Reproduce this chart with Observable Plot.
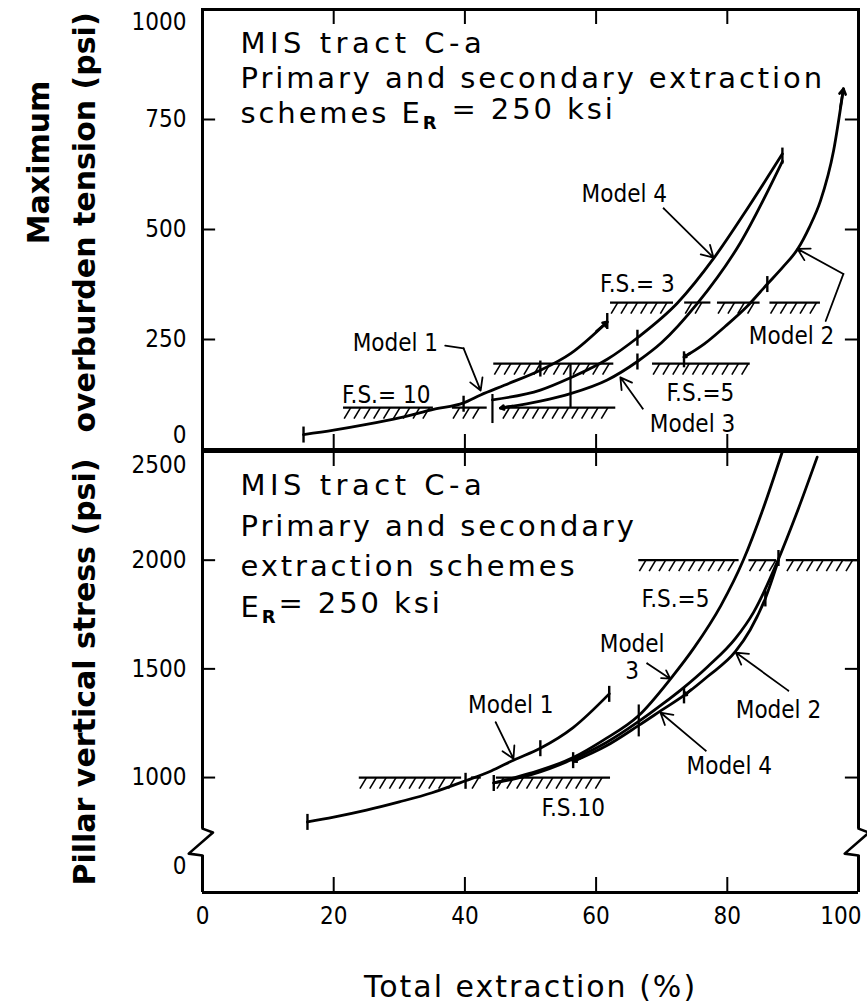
<!DOCTYPE html>
<html>
<head>
<meta charset="utf-8">
<script src="https://cdn.jsdelivr.net/npm/d3@7"></script>
<script src="https://cdn.jsdelivr.net/npm/@observablehq/plot@0.6"></script>
<style>
  body { margin: 0; background: #fff; }
  #fig { position: relative; width: 867px; height: 1005px; font-family: "DejaVu Sans", sans-serif; color: #000; }
  #fig svg { position: absolute; left: 0; overflow: visible; background: none; }
  text[aria-label="note-head"] { letter-spacing: 4.5px; }
  text[aria-label="note"] { letter-spacing: 2.9px; }
  text[aria-label="x-title"] { letter-spacing: 2px; }
</style>
</head>
<body>
<div id="fig"></div>
<script>
// ---------- shared x axis: total extraction (%) ----------
const xTicks = [0, 20, 40, 60, 80, 100];

// ---------- upper panel: maximum overburden tension (psi) ----------
const tensionTicks = [0, 250, 500, 750, 1000];
// [total extraction %, tension psi]
const tensionModel1 = [[15.4, 34], [20, 44], [25, 57], [30, 72], [35.2, 91], [39.8, 106], [42.4, 124], [46, 146], [51.5, 180], [56.1, 218], [61.7, 290]];
const tensionModel4 = [[44.2, 113], [51.5, 135], [56.1, 163], [61.7, 205], [66.3, 254], [72.4, 333], [78, 436], [83, 546], [88.4, 672]];
const tensionModel3 = [[45.4, 94], [51.5, 110], [56.1, 127], [61.7, 158], [66.3, 200], [70, 243], [75.5, 333], [82, 470], [88.4, 655]];
const tensionModel2 = [[73.4, 210], [76.5, 240], [79.7, 280], [83, 325], [86.1, 376], [88.5, 415], [90.7, 455], [92.5, 505], [94.2, 565], [96.2, 679], [97.7, 820]];
// factor-of-safety limits: level (psi) and extent (%)
const tensionFS = [
  {psi: 95, from: 21.5, to: 35.2}, {psi: 95, from: 38.1, to: 43.4}, {psi: 95, from: 45.7, to: 63.0},
  {psi: 195, from: 44.4, to: 62.7}, {psi: 195, from: 68.6, to: 83.5},
  {psi: 334, from: 62.2, to: 71.8}, {psi: 334, from: 73.5, to: 77.5}, {psi: 334, from: 78.5, to: 85}, {psi: 334, from: 86.5, to: 94.2}
];
// stage marks on the curves
const tensionMarks = [[15.4, 34], [39.8, 104], [51.5, 184], [61.7, 292], [66.3, 254], [66.3, 200], [73.4, 205], [86.1, 376], [88.4, 668]];
const tensionSteps = [{x: 44.2, y1: 59, y2: 125, dash: null}, {x: 56.1, y1: 95, y2: 195, dash: "3,3"}];
const tensionLabels = [
  {text: "Model 4", x: 64.3, y: 582}, {text: "Model 1", x: 29.4, y: 245},
  {text: "Model 3", x: 74.7, y: 61}, {text: "Model 2", x: 89.8, y: 259},
  {text: "F.S.= 10", x: 28.0, y: 125}, {text: "F.S.= 3", x: 66.3, y: 377}, {text: "F.S.=5", x: 75.9, y: 130}
];
const tensionPointers = [
  [[70.3, 548], [77.9, 436]],
  [[37.0, 236], [39.8, 230], [42.4, 134]],
  [[67.1, 93], [63.7, 164]],
  [[95.0, 292], [97.7, 399], [90.7, 456]]
];
const tensionNote = ["MIS tract C-a", "Primary and secondary extraction", "schemes E_R = 250 ksi"];

// ---------- lower panel: pillar vertical stress (psi) ----------
const stressTicks = [0, 1000, 1500, 2000, 2500];
const stressModel1 = [[16.0, 796], [20, 818], [25, 850], [30, 888], [35, 930], [40.1, 985], [44, 1030], [47.4, 1080], [51.5, 1135], [56.5, 1230], [62.0, 1385]];
const stressModel3 = [[44.4, 975], [50, 1020], [56.5, 1092], [61, 1170], [66.5, 1285], [71.5, 1460], [75, 1600], [79, 1790], [82.5, 2004], [85.5, 2240], [88.4, 2500]];
const stressModel4 = [[44.4, 975], [50, 1012], [56.5, 1085], [61.5, 1160], [66.5, 1258], [70, 1335], [73.4, 1415], [77, 1510], [81.25, 1640], [84, 1760], [87.8, 2005], [90.5, 2210], [93.7, 2474]];
const stressModel2 = [[56.5, 1074], [61.5, 1145], [66.5, 1240], [70, 1310], [73.4, 1378], [77, 1465], [81.25, 1580], [83.5, 1680], [85.8, 1824], [87.8, 2000]];
const stressFS = [
  {psi: 1000, from: 23.9, to: 39.5}, {psi: 1000, from: 41, to: 42.5}, {psi: 1000, from: 44.8, to: 62.2},
  {psi: 2000, from: 66.5, to: 81.8}, {psi: 2000, from: 83.3, to: 87.5}, {psi: 2000, from: 89, to: 100}
];
const stressMarks = [[16.0, 796], [40.1, 985], [51.5, 1135], [62.0, 1385], [44.4, 975], [56.5, 1080], [73.4, 1378], [85.8, 1824], [87.8, 2010]];
const stressSteps = [{x: 66.5, y1: 1187, y2: 1334, dash: null}];
const stressLabels = [
  {text: "Model 1", x: 47.0, y: 1336}, {text: "Model\n3", x: 65.5, y: 1556},
  {text: "Model 2", x: 87.8, y: 1313}, {text: "Model 4", x: 80.3, y: 1055},
  {text: "F.S.10", x: 56.5, y: 862}, {text: "F.S.=5", x: 72.1, y: 1824}
];
const stressPointers = [
  [[44.7, 1254], [47.4, 1087]],
  [[67.8, 1525], [71.3, 1455]],
  [[89.3, 1400], [81.3, 1575]],
  [[76.7, 1124], [69.8, 1299]]
];
const stressNote = ["MIS tract C-a", "Primary and secondary", "extraction schemes", "E_R= 250 ksi"];
// broken stress axis: below this level the scale is compressed
const breakAt = 600, breakSqueeze = 0.2147;
// zigzag of the axis break: levels (psi) and side offsets (%)
const breakLevels = [765, 747, 650, 641];
const breakOffsets = [0, 1.6, -2.1, 0];

// ---------- drawing helpers ----------
const vbar = {draw(ctx, size) { const r = Math.sqrt(size / Math.PI); ctx.moveTo(0, -r); ctx.lineTo(0, r); }};
const slash = {draw(ctx, size) { const r = Math.sqrt(size / Math.PI); ctx.moveTo(0, 0); ctx.lineTo(-0.6 * r, r); }};

function hatchMarks(segments) {
  const out = [];
  for (const s of segments) for (let x = s.from + 1.1; x <= s.to; x += 1.5) out.push({x, y: s.psi});
  return out;
}
// arrowhead on a curve: tip at point i, pointing away from point j
function head(series, i, j) {
  const [b, a] = [series[i], series[j]];
  return {x1: b[0] + 0.3 * (a[0] - b[0]), y1: b[1] + 0.3 * (a[1] - b[1]), x2: b[0], y2: b[1]};
}
function pointerMarks(pointers) {
  const lines = pointers.flatMap((p, i) => p.slice(0, -1).map(([x, y]) => ({i, x, y})));
  const arrows = pointers.map(p => {
    const [a, b] = p.slice(-2);
    return {x1: a[0], y1: a[1], x2: b[0], y2: b[1]};
  });
  return [
    Plot.line(lines, {x: "x", y: "y", z: "i", stroke: "black", strokeWidth: 1.8}),
    Plot.arrow(arrows, {x1: "x1", y1: "y1", x2: "x2", y2: "y2", stroke: "black", strokeWidth: 1.8, headLength: 11})
  ];
}
function curve(series) {
  return Plot.line(series, {x: d => d[0], y: d => d[1], curve: "monotone-x", stroke: "black", strokeWidth: 2.8});
}
function fsMarks(segments) {
  return [
    Plot.ruleY(segments, {y: "psi", x1: "from", x2: "to", stroke: "black", strokeWidth: 2.2}),
    Plot.dot(hatchMarks(segments), {x: "x", y: "y", symbol: slash, r: 11, fill: "none", stroke: "black", strokeWidth: 1.6})
  ];
}
function noteMarks(lines, spacing) {
  return lines.map((line, i) => Plot.text([line], {text: d => d, frameAnchor: "top-left", dx: 38, dy: 23 + i * spacing, lineAnchor: "top",
    fontFamily: "'DejaVu Sans', sans-serif", fontSize: 29, fill: "black", ariaLabel: () => (i ? "note" : "note-head")}));
}
const labelStyle = {fontFamily: "'DejaVu Sans Condensed', 'DejaVu Sans', sans-serif", fontSize: 24, fill: "black", lineHeight: 1.15};
const tickStyle = {fontFamily: "'DejaVu Sans Condensed', 'DejaVu Sans', sans-serif", fontSize: 24, fill: "black"};
const titleStyle = {fontFamily: "'DejaVu Sans', sans-serif", fontSize: 30, fontWeight: "bold", fill: "black", rotate: -90,
  frameAnchor: "left", textAnchor: "middle", lineAnchor: "middle"};

const W = 867, M = {left: 202, right: 9};

// ---------- upper panel ----------
const tensionPlot = Plot.plot({
  width: W, height: 470,
  marginLeft: M.left, marginRight: M.right, marginTop: 9, marginBottom: 21,
  x: {domain: [0, 100], axis: null},
  y: {domain: [0, 1000], axis: null},
  style: {background: "none", overflow: "visible"},
  marks: [
    Plot.frame({stroke: "black", strokeWidth: 3}),
    Plot.ruleY(tensionTicks.slice(1, -1), {y: d => d, x1: 0, x2: 2, stroke: "black", strokeWidth: 2}),
    Plot.ruleY(tensionTicks.slice(1, -1), {y: d => d, x1: 98, x2: 100, stroke: "black", strokeWidth: 2}),
    Plot.ruleX(xTicks.slice(1, -1), {x: d => d, insetTop: 425, stroke: "black", strokeWidth: 2}),
    Plot.ruleX(xTicks.slice(1, -1), {x: d => d, insetBottom: 425, stroke: "black", strokeWidth: 2}),
    ...fsMarks(tensionFS),
    curve(tensionModel1), curve(tensionModel4), curve(tensionModel3), curve(tensionModel2),
    Plot.ruleX(tensionSteps, {x: "x", y1: "y1", y2: "y2", stroke: "black", strokeWidth: 2.2, strokeDasharray: d => d.dash}),
    Plot.dot(tensionMarks, {x: d => d[0], y: d => d[1], symbol: vbar, r: 8, fill: "none", stroke: "black", strokeWidth: 2.4}),
    Plot.arrow([
      head(tensionModel1, tensionModel1.length - 1, tensionModel1.length - 2),
      head(tensionModel3, 0, 1),
      head(tensionModel2, 0, 1),
      head(tensionModel2, tensionModel2.length - 1, tensionModel2.length - 2)
    ], {x1: "x1", y1: "y1", x2: "x2", y2: "y2", stroke: "black", strokeWidth: 2.6, headLength: 12}),
    ...pointerMarks(tensionPointers),
    Plot.text(tensionLabels, {x: "x", y: "y", text: "text", ...labelStyle}),
    ...noteMarks(tensionNote, 35),
    Plot.text(tensionTicks.slice(1, -1), {y: d => d, text: d => String(d), frameAnchor: "left", dx: -16, textAnchor: "end", ...tickStyle}),
    Plot.text(tensionTicks.slice(-1), {y: d => d, text: d => String(d), frameAnchor: "left", dx: -16, dy: 13, textAnchor: "end", ...tickStyle}),
    Plot.text(tensionTicks.slice(0, 1), {y: d => d, text: d => String(d), frameAnchor: "left", dx: -16, dy: -14, textAnchor: "end", ...tickStyle}),
    Plot.text(["Maximum"], {text: d => d, dx: -163, dy: -67, ...titleStyle}),
    Plot.text(["overburden tension (psi)"], {text: d => d, dx: -117, dy: -7, ...titleStyle})
  ]
});

// ---------- lower panel ----------
const stressPlot = Plot.plot({
  width: W, height: 565,
  marginLeft: M.left, marginRight: M.right, marginTop: 11, marginBottom: 113,
  x: {domain: [0, 100], axis: null},
  y: {transform: v => v >= breakAt ? v : breakAt - (breakAt - v) * breakSqueeze, range: [452, 11], axis: null},
  style: {background: "none", overflow: "visible"},
  marks: [
    // frame with broken vertical sides
    Plot.ruleY([0, 2500], {y: d => d, x1: 0, x2: 100, stroke: "black", strokeWidth: 3}),
    Plot.ruleX([0, 100], {x: d => d, y1: 0, y2: breakLevels[3], stroke: "black", strokeWidth: 3}),
    Plot.ruleX([0, 100], {x: d => d, y1: breakLevels[0], y2: 2500, stroke: "black", strokeWidth: 3}),
    Plot.line([0, 100].flatMap(side => breakLevels.map((y, i) => ({side, x: side + breakOffsets[i], y}))),
      {x: "x", y: "y", z: "side", stroke: "black", strokeWidth: 2.6}),
    Plot.ruleY(stressTicks.slice(1, -1), {y: d => d, x1: 0, x2: 2, stroke: "black", strokeWidth: 2}),
    Plot.ruleY(stressTicks.slice(1, -1), {y: d => d, x1: 98, x2: 100, stroke: "black", strokeWidth: 2}),
    Plot.ruleX(xTicks.slice(1, -1), {x: d => d, insetTop: 426, stroke: "black", strokeWidth: 2}),
    Plot.ruleX(xTicks.slice(1, -1), {x: d => d, insetBottom: 426, stroke: "black", strokeWidth: 2}),
    ...fsMarks(stressFS),
    curve(stressModel1), curve(stressModel3), curve(stressModel4), curve(stressModel2),
    Plot.ruleX(stressSteps, {x: "x", y1: "y1", y2: "y2", stroke: "black", strokeWidth: 2.2}),
    Plot.dot(stressMarks, {x: d => d[0], y: d => d[1], symbol: vbar, r: 8, fill: "none", stroke: "black", strokeWidth: 2.4}),
    Plot.arrow([head(stressModel2, 0, 1), head(stressModel2, 4, 5)],
      {x1: "x1", y1: "y1", x2: "x2", y2: "y2", stroke: "black", strokeWidth: 2.6, headLength: 12}),
    ...pointerMarks(stressPointers),
    Plot.text(stressLabels, {x: "x", y: "y", text: "text", ...labelStyle}),
    ...noteMarks(stressNote, 40.7),
    Plot.text(stressTicks.slice(1, -1), {y: d => d, text: d => String(d), frameAnchor: "left", dx: -16, textAnchor: "end", ...tickStyle}),
    Plot.text(stressTicks.slice(-1), {y: d => d, text: d => String(d), frameAnchor: "left", dx: -16, dy: 14, textAnchor: "end", ...tickStyle}),
    Plot.text(stressTicks.slice(0, 1), {y: d => d, text: d => String(d), frameAnchor: "left", dx: -16, dy: -26, textAnchor: "end", ...tickStyle}),
    Plot.text(xTicks.slice(0, -1), {x: d => d, text: d => String(d), frameAnchor: "bottom", lineAnchor: "middle", dy: 24, ...tickStyle}),
    Plot.text(xTicks.slice(-1), {x: d => d, text: d => String(d), frameAnchor: "bottom", lineAnchor: "middle", dy: 24, dx: 3, textAnchor: "end", ...tickStyle}),
    Plot.text(["Pillar vertical stress (psi)"], {text: d => d, dx: -117, dy: 0, ...titleStyle}),
    Plot.text(["Total extraction (%)"], {text: d => d, frameAnchor: "bottom", lineAnchor: "middle", dy: 95, fontFamily: "'DejaVu Sans', sans-serif",
      fontSize: 30, fill: "black", ariaLabel: () => "x-title"})
  ]
});

// subscript R in the elastic modulus notes
function subscriptR(svg) {
  svg.querySelectorAll("text, tspan").forEach(node => {
    if (node.children.length || !node.textContent.includes("E_R")) return;
    const [before, after] = node.textContent.split("E_R");
    node.textContent = "";
    const sel = d3.select(node);
    sel.append("tspan").text(before + "E");
    sel.append("tspan").attr("dy", "0.35em").attr("font-size", "0.62em").attr("font-weight", "bold").text("R");
    sel.append("tspan").attr("dy", "-0.35em").text(after);
  });
}
subscriptR(tensionPlot);
subscriptR(stressPlot);

tensionPlot.style.top = "0px";
stressPlot.style.top = "440px";
document.getElementById("fig").append(tensionPlot, stressPlot);
</script>
</body>
</html>
